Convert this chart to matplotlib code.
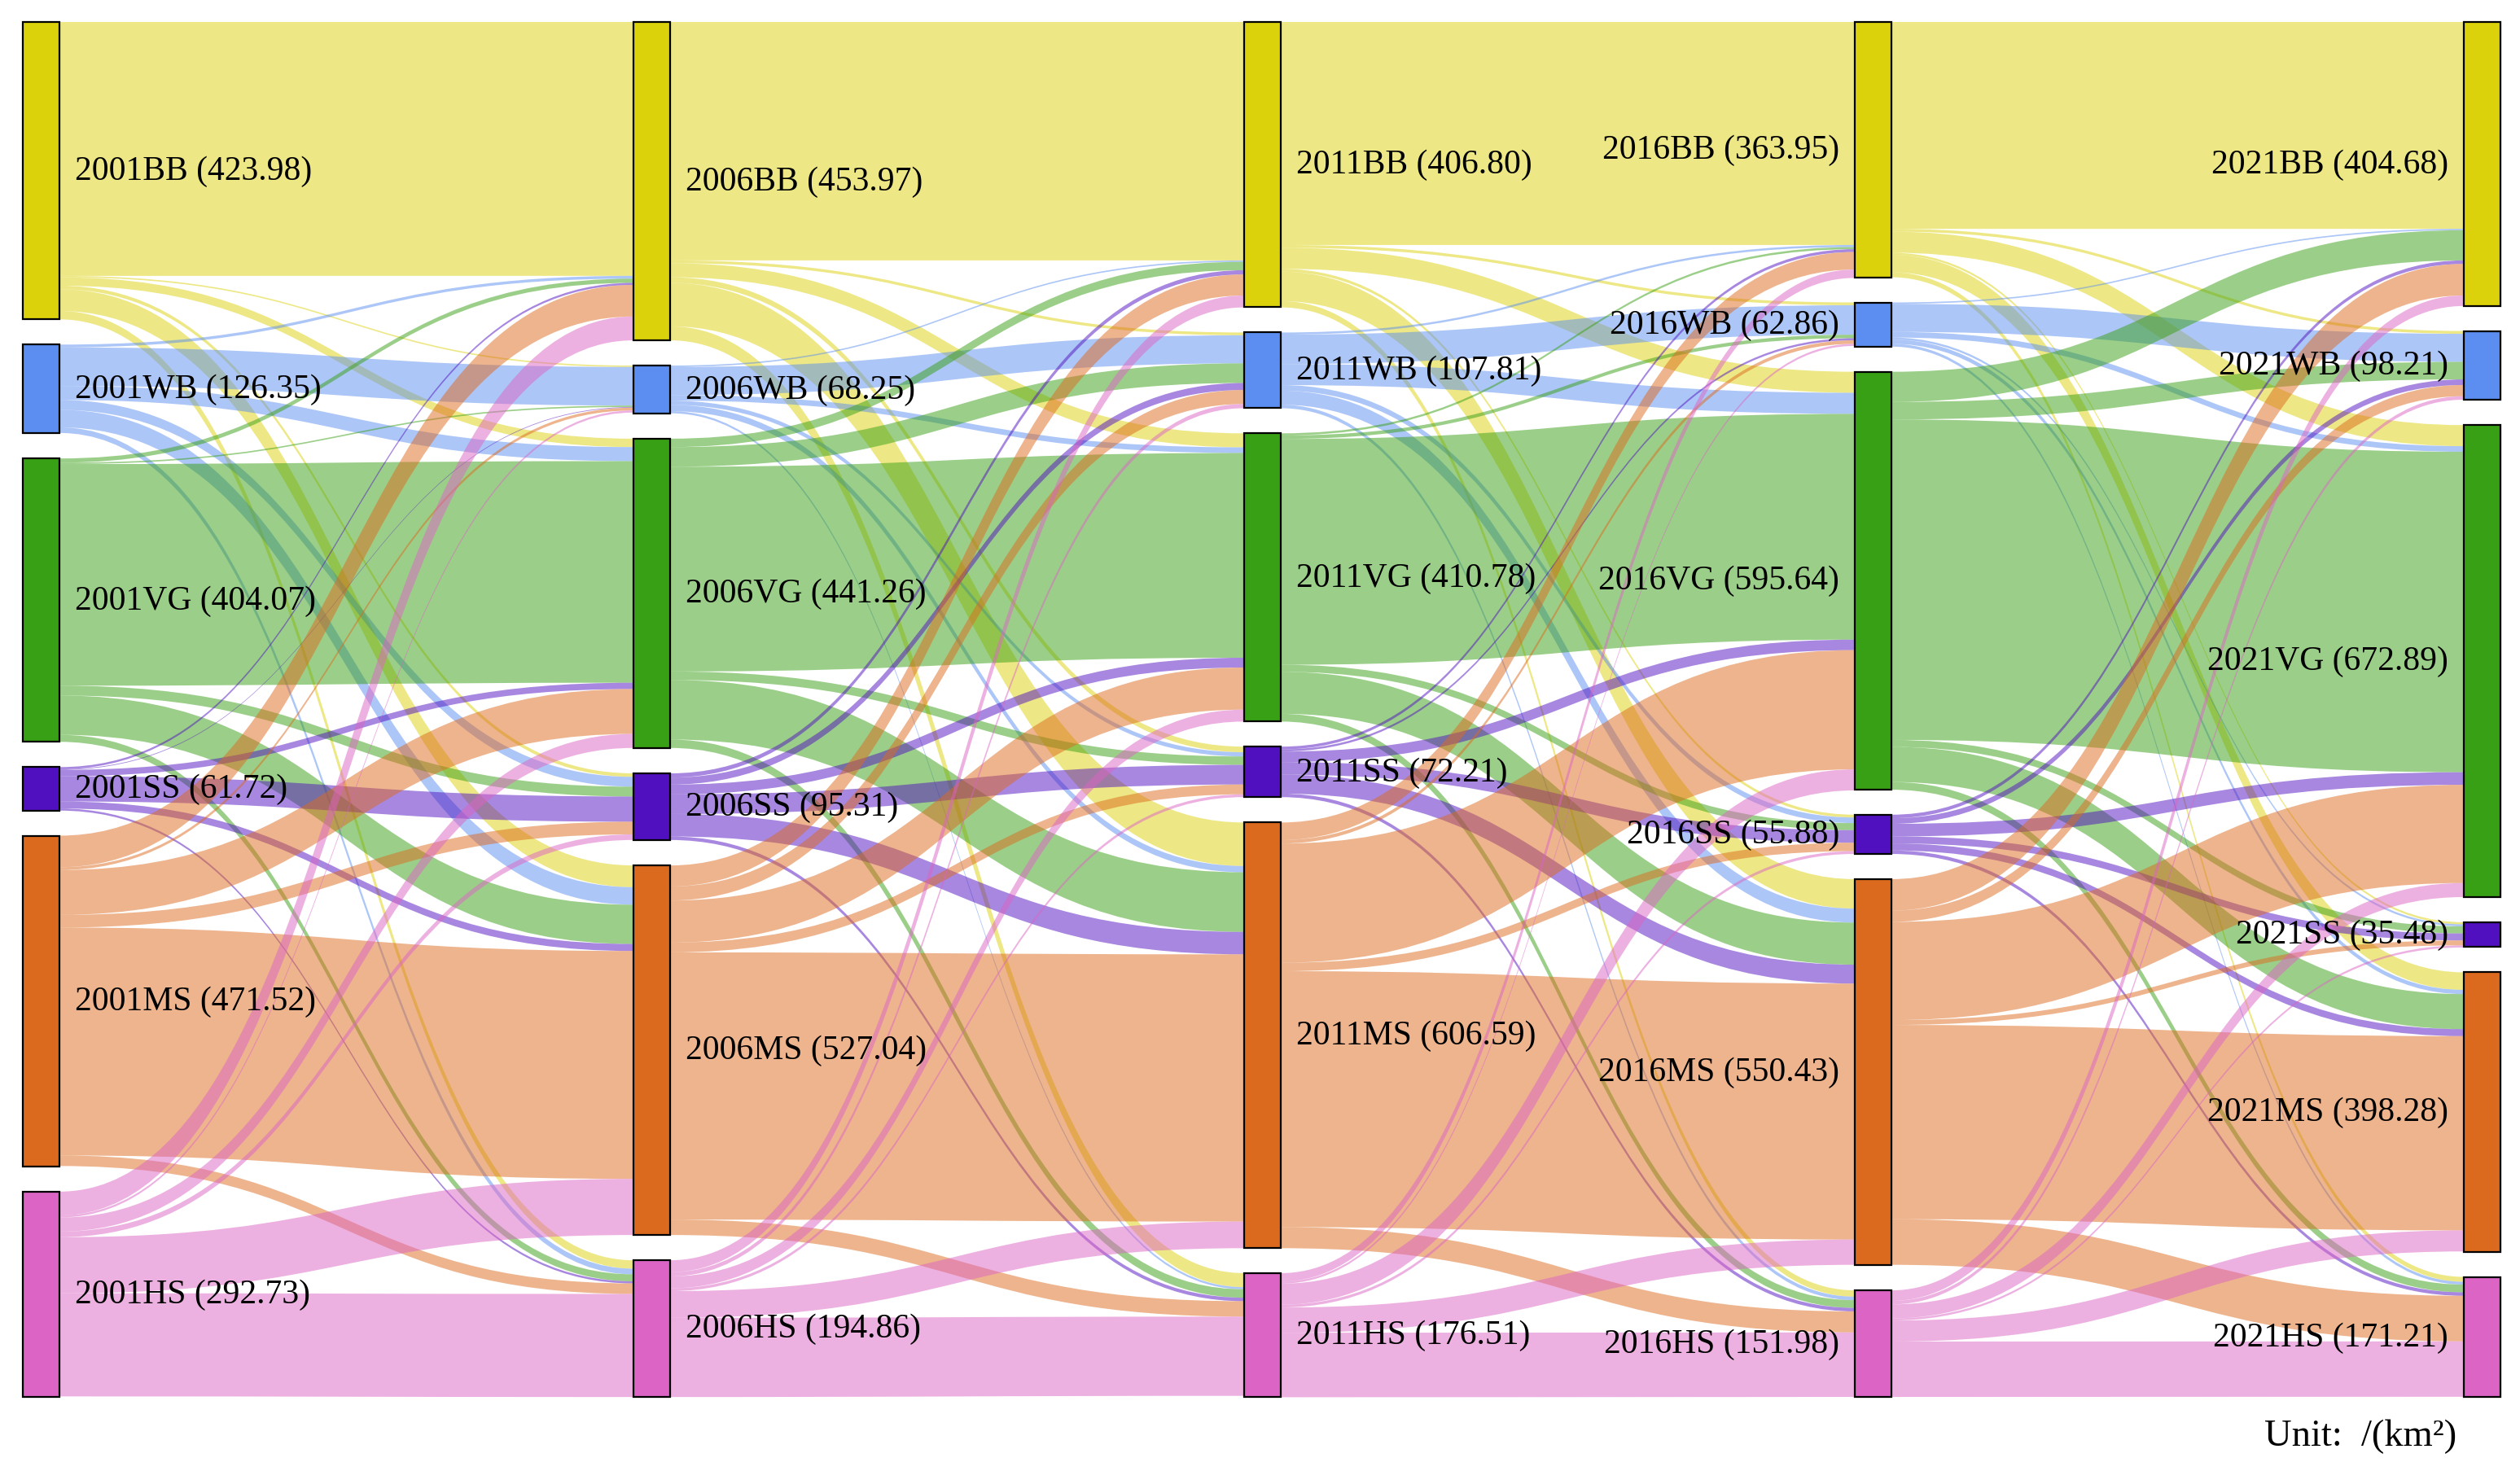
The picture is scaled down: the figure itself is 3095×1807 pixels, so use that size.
import numpy as np
import matplotlib.pyplot as plt
from matplotlib.patches import Rectangle, PathPatch
from matplotlib.path import Path

# Data #
years = ['2001', '2006', '2011', '2016', '2021']
classes = ['BB', 'WB', 'VG', 'SS', 'MS', 'HS']

area_2001 = [423.98, 126.35, 404.07, 61.72, 471.52, 292.73]
area_2006 = [453.97, 68.25, 441.26, 95.31, 527.04, 194.86]
area_2011 = [406.80, 107.81, 410.78, 72.21, 606.59, 176.51]
area_2016 = [363.95, 62.86, 595.64, 55.88, 550.43, 151.98]
area_2021 = [404.68, 98.21, 672.89, 35.48, 398.28, 171.21]

# transitions (rows: from class, cols: to class), km2
flow_2001_2006 = [[362, 2, 12, 5, 31, 12],
                  [4, 55, 20, 14, 25, 8],
                  [6, 2, 316, 14, 56, 10],
                  [3, 1, 9, 36, 10, 3],
                  [45, 4, 64, 18, 325, 15],
                  [34, 3, 20, 8, 80, 147]]
flow_2006_2011 = [[340, 4, 20, 8, 62, 20],
                  [2, 40, 8, 6, 9, 3],
                  [12, 28, 292, 12, 85, 12],
                  [6, 10, 14, 28, 32, 5],
                  [30, 20, 60, 14, 381, 22],
                  [17, 6, 17, 4, 38, 113]]
flow_2011_2016 = [[318, 4, 30, 4, 42, 9],
                  [3, 42, 30, 8, 20, 5],
                  [3, 5, 322, 10, 60, 11],
                  [4, 3, 15, 18, 27, 5],
                  [25, 5, 170, 12, 365, 30],
                  [12, 3, 30, 4, 36, 92]]
flow_2016_2021 = [[295, 4, 30, 3, 25, 7],
                  [2, 40, 8, 3, 6, 4],
                  [43, 25, 457, 10, 50, 11],
                  [5, 8, 18, 10, 10, 5],
                  [45, 16, 140, 7, 277, 65],
                  [15, 5, 20, 3, 30, 79]]

areas = [area_2001, area_2006, area_2011, area_2016, area_2021]
flows = [flow_2001_2006, flow_2006_2011, flow_2011_2016, flow_2016_2021]

node_colors = ['#dcd20c', '#5b8ef0', '#38a014', '#5010c0', '#dc6a1e', '#dc64c4']

# Layout (pixels) #
W, H = 3095, 1808
col_x = [28, 778, 1528, 2278, 3026]
node_w = 45
top, bottom, pad = 28, 1717, 31

fig = plt.figure(figsize=(W / 100, H / 100), dpi=100)
ax = fig.add_axes([0, 0, 1, 1])
ax.set_xlim(0, W)
ax.set_ylim(H, 0)
ax.axis('off')

# node positions
node_y = []
scales = []
for a in areas:
    s = (bottom - top - pad * (len(a) - 1)) / sum(a)
    scales.append(s)
    ys = []
    y = top
    for v in a:
        ys.append(y)
        y += v * s + pad
    node_y.append(ys)

# links #
for g, F in enumerate(flows):
    F = np.array(F, dtype=float)
    s0, s1 = scales[g], scales[g + 1]
    x0 = col_x[g] + node_w
    x1 = col_x[g + 1]
    xm = (x0 + x1) / 2
    # incoming offsets per target, ordered by source
    tgt_start = np.zeros((6, 6))
    for j in range(6):
        y = node_y[g + 1][j]
        for i in range(6):
            tgt_start[i, j] = y
            y += F[i, j] * s1
    for i in range(6):
        ys = node_y[g][i]
        for j in range(6):
            v = F[i, j]
            if v <= 0:
                continue
            a0, b0 = ys, ys + v * s0
            a1, b1 = tgt_start[i, j], tgt_start[i, j] + v * s1
            verts = [(x0, a0), (xm, a0), (xm, a1), (x1, a1),
                     (x1, b1), (xm, b1), (xm, b0), (x0, b0), (x0, a0)]
            codes = [Path.MOVETO, Path.CURVE4, Path.CURVE4, Path.CURVE4,
                     Path.LINETO, Path.CURVE4, Path.CURVE4, Path.CURVE4, Path.CLOSEPOLY]
            ax.add_patch(PathPatch(Path(verts, codes), facecolor=node_colors[i],
                                   edgecolor='none', alpha=0.5, zorder=1))
            ys = b0

# nodes and labels #
font = ['Liberation Serif', 'DejaVu Serif']
for c, a in enumerate(areas):
    for k, v in enumerate(a):
        y = node_y[c][k]
        h = v * scales[c]
        ax.add_patch(Rectangle((col_x[c], y), node_w, h, facecolor=node_colors[k],
                               edgecolor='black', lw=1.6, zorder=3))
        label = '%s%s (%.2f)' % (years[c], classes[k], v)
        if c < 3:
            ax.text(col_x[c] + node_w + 19, y + h / 2, label, fontsize=30, family=font,
                    ha='left', va='center', zorder=4)
        else:
            ax.text(col_x[c] - 19, y + h / 2, label, fontsize=30, family=font,
                    ha='right', va='center', zorder=4)

ax.text(3017, 1765, 'Unit:  /(km²)', fontsize=33.5, family=font, ha='right', va='center')

fig.savefig('out.png', dpi=100)
